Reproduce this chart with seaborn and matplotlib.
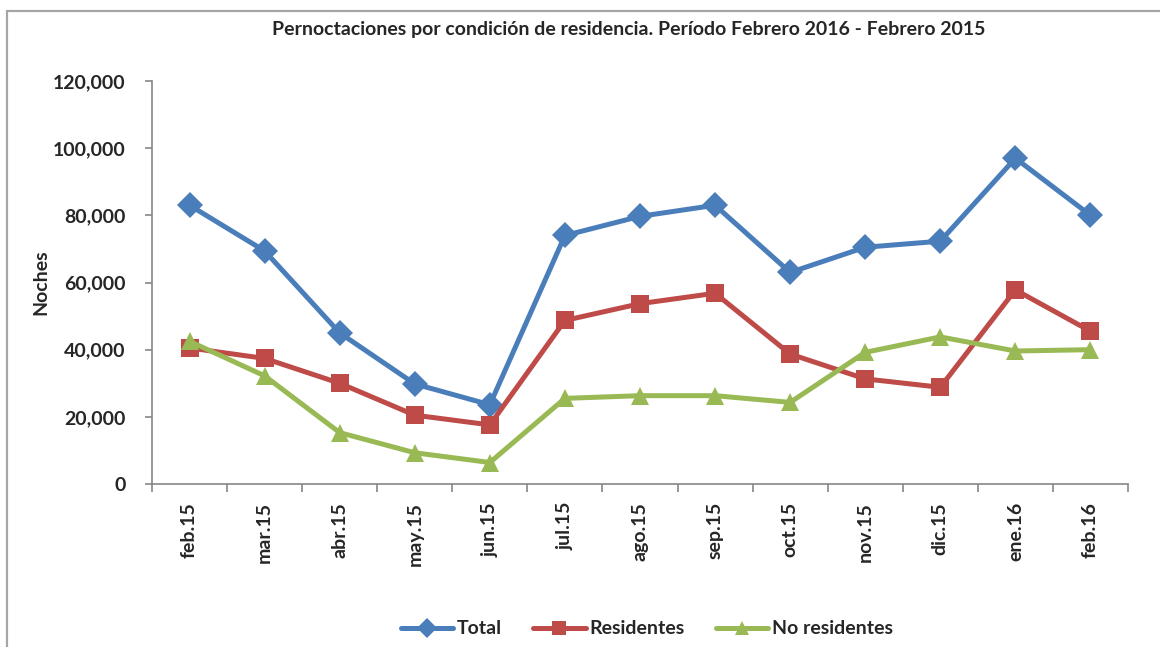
import pandas as pd
import matplotlib.pyplot as plt
import seaborn as sns
from matplotlib.lines import Line2D
from matplotlib.ticker import FuncFormatter, FixedLocator

months = ["feb.15", "mar.15", "abr.15", "may.15", "jun.15", "jul.15", "ago.15",
          "sep.15", "oct.15", "nov.15", "dic.15", "ene.16", "feb.16"]
total = [83000, 69400, 45000, 29800, 23600, 74000, 79700,
         83000, 63000, 70500, 72300, 97000, 80000]
residentes = [40500, 37400, 30000, 20500, 17600, 48700, 53700,
              56800, 38700, 31300, 28800, 57800, 45500]
no_residentes = [42500, 32200, 15300, 9300, 6400, 25500, 26300,
                 26300, 24300, 39200, 43800, 39600, 40000]
series_names = ["Total", "Residentes", "No residentes"]

df = pd.DataFrame({"mes": months * 3,
                   "noches": total + residentes + no_residentes,
                   "serie": [s for s in series_names for _ in months]})

sns.set_style("white")
plt.rcParams["font.family"] = ["Lato", "DejaVu Sans"]
plt.rcParams["font.weight"] = "bold"
FS = 14

colors = {"Total": "#4A7EBB", "Residentes": "#BE4B48", "No residentes": "#98B954"}
markers = {"Total": "D", "Residentes": "s", "No residentes": "^"}

fig = plt.figure(figsize=(11.6, 6.47), dpi=100)
ax = fig.add_axes([152 / 1160, 1 - 484 / 647, 976 / 1160, 403 / 647])

sns.lineplot(data=df, x="mes", y="noches", hue="serie", style="serie",
             palette=colors, markers=markers, dashes=False, sort=False,
             linewidth=3.6, markersize=13, markeredgewidth=0, ax=ax,
             legend=False)

ax.set_xlim(-0.5, len(months) - 0.5)
ax.set_ylim(0, 120000)
ax.yaxis.set_major_locator(FixedLocator(range(0, 120001, 20000)))
ax.yaxis.set_major_formatter(FuncFormatter(lambda v, p: f"{int(v):,}"))

ax.set_xticks(range(len(months)))
ax.set_xticklabels(months, rotation=90, fontsize=FS, fontweight="bold")
ax.set_xticks([i - 0.5 for i in range(len(months) + 1)], minor=True)
ax.tick_params(axis="x", which="major", length=0, pad=13)
ax.tick_params(axis="x", which="minor", length=6, width=1.2, color="#868686",
               direction="out", bottom=True)
ax.tick_params(axis="y", length=5, width=1.2, color="#868686", direction="out",
               left=True, labelsize=FS, pad=14)
for lab in ax.get_yticklabels():
    lab.set_fontweight("bold")

for side in ["top", "right"]:
    ax.spines[side].set_visible(False)
for side in ["left", "bottom"]:
    ax.spines[side].set_color("#868686")
    ax.spines[side].set_linewidth(1.2)

ax.set_xlabel("")
ax.set_ylabel("Noches", fontsize=FS, fontweight="bold")
ax.yaxis.set_label_coords(-0.105, 0.5)

fig.text(629 / 1160, 1 - 30 / 647,
         "Pernoctaciones por condición de residencia. Período Febrero 2016 - Febrero 2015",
         ha="center", va="center", fontsize=FS, fontweight="bold")

handles = [Line2D([], [], color=colors[s], marker=markers[s], linewidth=3.6,
                  markersize=10, markeredgewidth=0) for s in series_names]
fig.legend(handles, series_names, loc="center", ncol=3,
           bbox_to_anchor=(647 / 1160, 1 - 629 / 647), frameon=False,
           prop={"size": FS, "weight": "bold"}, handlelength=2.7,
           columnspacing=1.6, handletextpad=0.2)

# outer chart border (only top and left visible)
fig.add_artist(Line2D([7 / 1160, 1], [1 - 11 / 647, 1 - 11 / 647],
                      transform=fig.transFigure, color="#A6A6A6", linewidth=1.6))
fig.add_artist(Line2D([7 / 1160, 7 / 1160], [0, 1 - 11 / 647],
                      transform=fig.transFigure, color="#A6A6A6", linewidth=1.6))

fig.savefig("out.png", dpi=100)
